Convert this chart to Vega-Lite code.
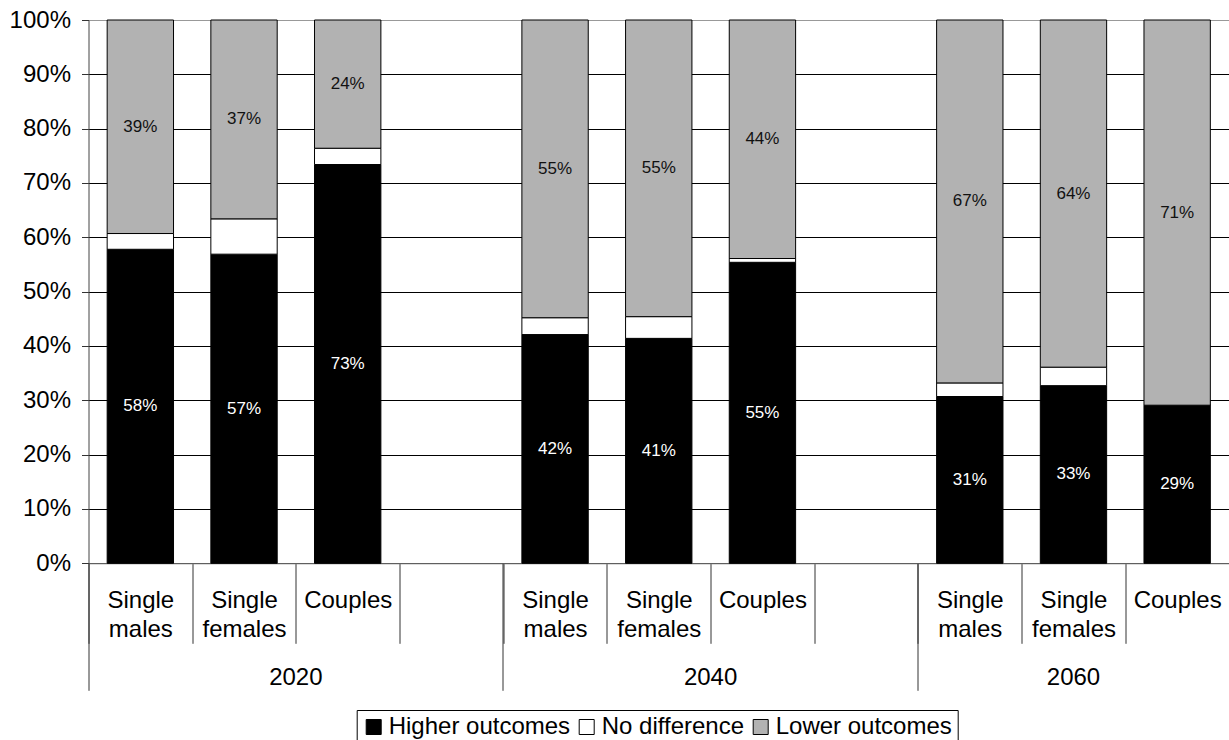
{
  "$schema": "https://vega.github.io/schema/vega-lite/v6.json",
  "width": 1140.5,
  "height": 543.3,
  "autosize": "none",
  "padding": {"left": 88.5, "top": 20, "right": 0, "bottom": 176.7},
  "background": "white",
  "data": {
    "values": [
      {"slot": "2020|Single|males", "outcome": "Higher outcomes", "share": 57.8},
      {"slot": "2020|Single|males", "outcome": "No difference", "share": 2.9},
      {"slot": "2020|Single|males", "outcome": "Lower outcomes", "share": 39.3},
      {"slot": "2020|Single|females", "outcome": "Higher outcomes", "share": 56.9},
      {"slot": "2020|Single|females", "outcome": "No difference", "share": 6.5},
      {"slot": "2020|Single|females", "outcome": "Lower outcomes", "share": 36.6},
      {"slot": "2020|Couples", "outcome": "Higher outcomes", "share": 73.4},
      {"slot": "2020|Couples", "outcome": "No difference", "share": 3.0},
      {"slot": "2020|Couples", "outcome": "Lower outcomes", "share": 23.6},
      {"slot": "2040|Single|males", "outcome": "Higher outcomes", "share": 42.1},
      {"slot": "2040|Single|males", "outcome": "No difference", "share": 3.1},
      {"slot": "2040|Single|males", "outcome": "Lower outcomes", "share": 54.8},
      {"slot": "2040|Single|females", "outcome": "Higher outcomes", "share": 41.4},
      {"slot": "2040|Single|females", "outcome": "No difference", "share": 4.0},
      {"slot": "2040|Single|females", "outcome": "Lower outcomes", "share": 54.6},
      {"slot": "2040|Couples", "outcome": "Higher outcomes", "share": 55.4},
      {"slot": "2040|Couples", "outcome": "No difference", "share": 0.7},
      {"slot": "2040|Couples", "outcome": "Lower outcomes", "share": 43.9},
      {"slot": "2060|Single|males", "outcome": "Higher outcomes", "share": 30.7},
      {"slot": "2060|Single|males", "outcome": "No difference", "share": 2.5},
      {"slot": "2060|Single|males", "outcome": "Lower outcomes", "share": 66.8},
      {"slot": "2060|Single|females", "outcome": "Higher outcomes", "share": 32.7},
      {"slot": "2060|Single|females", "outcome": "No difference", "share": 3.4},
      {"slot": "2060|Single|females", "outcome": "Lower outcomes", "share": 63.9},
      {"slot": "2060|Couples", "outcome": "Higher outcomes", "share": 29.1},
      {"slot": "2060|Couples", "outcome": "No difference", "share": 0},
      {"slot": "2060|Couples", "outcome": "Lower outcomes", "share": 70.9}
    ]
  },
  "transform": [
    {"calculate": "indexof(['Higher outcomes', 'No difference', 'Lower outcomes'], datum.outcome)", "as": "rank"},
    {"stack": "share", "groupby": ["slot"], "sort": [{"field": "rank", "order": "ascending"}], "as": ["y0", "y1"]},
    {"calculate": "(datum.y0 + datum.y1) / 2", "as": "mid"},
    {"calculate": "format(datum.share, '.0f') + '%'", "as": "label"}
  ],
  "resolve": {"axis": {"x": "independent"}},
  "layer": [
    {
      "mark": {"type": "bar", "width": {"band": 0.64}, "stroke": "black", "strokeWidth": 1},
      "encoding": {
        "x": {
          "field": "slot",
          "type": "nominal",
          "sort": null,
          "title": null,
          "scale": {
            "domain": ["2020|Single|males", "2020|Single|females", "2020|Couples", "2020|",
                       "2040|Single|males", "2040|Single|females", "2040|Couples", "2040|",
                       "2060|Single|males", "2060|Single|females", "2060|Couples"],
            "paddingInner": 0,
            "paddingOuter": 0
          },
          "axis": {
            "orient": "bottom",
            "labelExpr": "slice(split(datum.label, '|'), 1)",
            "labelAngle": 0,
            "labelFont": "Liberation Sans",
            "labelFontSize": 24,
            "labelColor": "black",
            "labelLineHeight": 29,
            "labelBaseline": "top",
            "labelPadding": -55,
            "labelOverlap": false,
            "labelBound": false,
            "tickBand": "extent",
            "tickSize": 80,
            "tickColor": "#333",
            "domainColor": "#888",
            "grid": false
          }
        },
        "y": {
          "field": "y0",
          "type": "quantitative",
          "title": null,
          "scale": {"domain": [0, 100], "nice": false},
          "axis": {
            "values": [0, 10, 20, 30, 40, 50, 60, 70, 80, 90, 100],
            "labelExpr": "datum.value + '%'",
            "labelFont": "Liberation Sans",
            "labelFontSize": 24,
            "labelColor": "black",
            "labelPadding": 11,
            "tickSize": 7,
            "tickColor": "#333",
            "domainColor": "#444",
            "grid": true,
            "gridColor": {"condition": {"test": "datum.value == 100", "value": "#999"}, "value": "black"},
            "gridWidth": 1
          }
        },
        "y2": {"field": "y1"},
        "color": {
          "field": "outcome",
          "type": "nominal",
          "scale": {
            "domain": ["Higher outcomes", "No difference", "Lower outcomes"],
            "range": ["black", "white", "#b2b2b2"]
          },
          "legend": {
            "title": null,
            "orient": "none",
            "legendX": 268.2,
            "legendY": 690,
            "direction": "horizontal",
            "symbolType": "square",
            "symbolSize": 225,
            "symbolStrokeColor": "black",
            "symbolStrokeWidth": 1,
            "symbolOpacity": 1,
            "labelFont": "Liberation Sans",
            "labelFontSize": 24,
            "labelColor": "black",
            "labelLimit": 0,
            "labelOffset": 3,
            "columnPadding": 4,
            "strokeColor": "black",
            "padding": 5
          }
        },
        "order": {"field": "rank"}
      }
    },
    {
      "transform": [{"filter": "datum.outcome == 'Higher outcomes'"}],
      "mark": {"type": "text", "color": "white", "font": "Liberation Sans", "fontSize": 17, "baseline": "middle"},
      "encoding": {
        "x": {
          "field": "slot",
          "type": "nominal",
          "sort": null,
          "title": null,
          "scale": {
            "domain": ["2020|Single|males", "2020|Single|females", "2020|Couples", "2020|",
                       "2040|Single|males", "2040|Single|females", "2040|Couples", "2040|",
                       "2060|Single|males", "2060|Single|females", "2060|Couples"],
            "paddingInner": 0,
            "paddingOuter": 0
          },
          "axis": {
            "orient": "bottom",
            "values": ["2020|Single|males", "2040|Single|males", "2060|Single|males"],
            "bandPosition": 0,
            "labels": false,
            "domain": false,
            "grid": false,
            "tickSize": 127,
            "tickColor": "#333"
          }
        },
        "y": {"field": "mid", "type": "quantitative", "title": null, "scale": {"domain": [0, 100], "nice": false}},
        "text": {"field": "label"}
      }
    },
    {
      "transform": [{"filter": "datum.outcome == 'Lower outcomes'"}],
      "mark": {"type": "text", "color": "#111", "font": "Liberation Sans", "fontSize": 17, "baseline": "middle"},
      "encoding": {
        "x": {
          "field": "slot",
          "type": "nominal",
          "sort": null,
          "title": null,
          "scale": {
            "domain": ["2020|Single|males", "2020|Single|females", "2020|Couples", "2020|",
                       "2040|Single|males", "2040|Single|females", "2040|Couples", "2040|",
                       "2060|Single|males", "2060|Single|females", "2060|Couples"],
            "paddingInner": 0,
            "paddingOuter": 0
          },
          "axis": {
            "orient": "bottom",
            "values": ["2020|Single|females", "2040|Single|females", "2060|Single|females"],
            "labelExpr": "split(datum.label, '|')[0]",
            "labelAngle": 0,
            "labelFont": "Liberation Sans",
            "labelFontSize": 24,
            "labelColor": "black",
            "labelBaseline": "top",
            "labelPadding": 102,
            "labelOverlap": false,
            "labelOffset": {"expr": "indexof(datum.value, '2060') == 0 ? 0 : width / 22"},
            "ticks": false,
            "tickSize": 0,
            "domain": false,
            "grid": false
          }
        },
        "y": {"field": "mid", "type": "quantitative", "title": null, "scale": {"domain": [0, 100], "nice": false}},
        "text": {"field": "label"}
      }
    }
  ],
  "config": {
    "view": {"stroke": null},
    "font": "Liberation Sans"
  }
}
